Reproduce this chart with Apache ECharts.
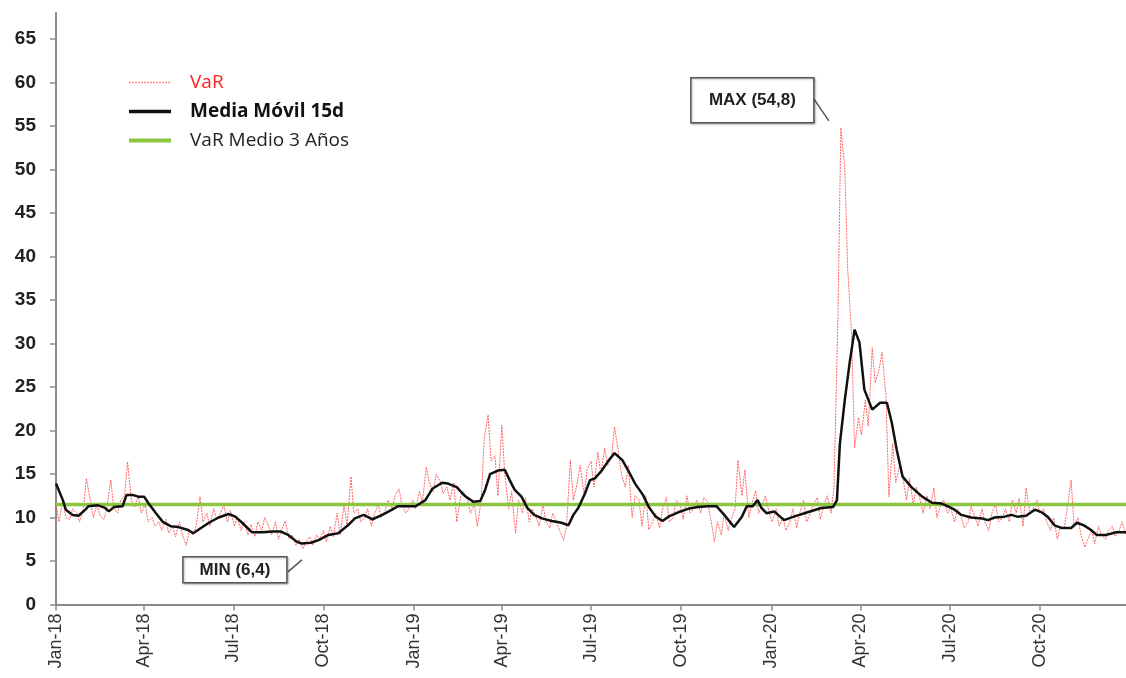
<!DOCTYPE html>
<html>
<head>
<meta charset="utf-8">
<script src="https://cdn.jsdelivr.net/npm/echarts@6/dist/echarts.min.js"></script>
<style>
html,body{margin:0;padding:0;background:#fff;}
#chart{width:1126px;height:678px;}
</style>
</head>
<body>
<div id="chart"></div>
<script>
// ---- Data ----
const seriesNames = ['VaR', 'Media Móvil 15d', 'VaR Medio 3 Años'];

// VaR: two readings per week (Monday, Thursday) starting 2018-01-01
const varStart = '2018-01-01';
const varValues = [
  // 2018
  11.5, 9.5, 12.0, 10.0, 9.8, 11.0, 10.5, 9.5, 11.0, 14.5,
  12.0, 10.0, 11.5, 10.2, 9.8, 11.2, 14.3, 11.0, 10.5, 12.0,
  12.5, 16.4, 12.0, 11.2, 12.5, 10.5, 11.5, 9.5, 10.0, 9.0,
  9.5, 8.5, 9.8, 8.2, 9.0, 7.8, 9.5, 8.0, 6.8, 8.5,
  8.0, 9.0, 12.4, 9.5, 10.5, 9.0, 11.0, 9.8, 10.5, 11.5,
  9.5, 10.8, 9.0, 10.0, 8.5, 9.5, 8.0, 9.2, 7.8, 9.5,
  8.5, 10.0, 9.0, 8.0, 9.5, 7.5, 8.8, 9.6, 7.5, 8.0,
  6.8, 7.5, 6.4, 7.2, 7.8, 6.8, 8.0, 7.5, 8.5, 7.2,
  9.0, 7.8, 10.5, 8.0, 11.5, 9.0, 14.7, 10.5, 11.0, 9.5,
  10.0, 11.0, 9.0, 10.5, 11.5, 10.0, 10.8, 12.0, 11.0, 12.5,
  13.3, 11.5, 10.5, 11.0, 12.0, 11.0,
  // 2019
  13.0, 11.8, 15.8, 14.0, 13.0, 15.0, 14.2, 12.8, 13.5, 12.0,
  14.0, 9.5, 12.5, 13.0, 12.0, 10.5, 11.5, 9.0, 12.0, 19.1,
  21.8, 16.5, 17.1, 12.5, 20.6, 15.0, 11.0, 13.0, 8.2, 12.0,
  10.5, 12.3, 9.5, 11.0, 10.0, 9.0, 11.5, 9.5, 8.8, 10.5,
  9.5, 8.5, 7.4, 9.0, 16.6, 12.0, 14.0, 16.0, 12.5, 15.5,
  16.5, 13.5, 17.5, 15.0, 18.0, 16.0, 17.0, 20.4, 17.5, 15.0,
  13.5, 16.0, 10.0, 12.5, 12.0, 9.0, 12.5, 8.6, 9.5, 10.5,
  8.8, 11.0, 12.3, 9.5, 10.0, 12.0, 11.5, 9.8, 12.5, 10.5,
  11.0, 12.0, 10.5, 12.3, 11.8, 10.0, 7.2, 9.5, 8.0, 10.5,
  8.5, 9.8, 11.0, 16.6, 12.5, 15.5, 10.0, 11.5, 13.1, 10.5,
  11.5, 12.5, 10.5, 9.5,
  // 2020
  11.0, 9.0, 10.0, 8.5, 9.5, 11.0, 8.8, 10.5, 12.0, 9.5,
  10.5, 11.5, 12.3, 9.8, 11.5, 12.5, 10.5, 13.5, 33.0, 54.8,
  50.2, 38.5, 31.0, 18.0, 21.5, 19.5, 23.5, 20.5, 29.5, 25.5,
  27.0, 29.0, 24.0, 12.4, 18.5, 14.0, 16.0, 14.8, 12.0, 14.5,
  11.5, 13.5, 12.0, 10.5, 12.5, 11.0, 13.4, 10.0, 11.5, 12.0,
  10.5, 11.2, 9.5, 11.0, 10.0, 8.8, 9.5, 11.3, 10.0, 9.0,
  11.0, 9.5, 8.5, 10.5, 11.5, 9.5, 10.0, 11.0, 9.5, 12.0,
  10.5, 12.2, 9.0, 13.4, 10.5, 11.0, 12.0, 10.5, 11.0, 9.5,
  8.5, 10.0, 7.5, 9.0, 8.8, 11.0, 14.3, 9.0, 10.0, 8.0,
  6.6, 7.5, 8.5, 7.0, 9.0, 8.0, 7.5, 8.5, 9.0, 7.8,
  8.5, 9.5, 8.0
];

// Media Móvil 15d
const maDates = [
  '2018-01-01','2018-01-08','2018-01-11','2018-01-18','2018-01-24','2018-01-31','2018-02-03','2018-02-13','2018-02-20','2018-02-24',
  '2018-03-01','2018-03-10','2018-03-14','2018-03-20','2018-03-26','2018-04-01','2018-04-05','2018-04-13','2018-04-20','2018-04-28',
  '2018-05-06','2018-05-15','2018-05-21','2018-05-29','2018-06-06','2018-06-16','2018-06-26','2018-07-03','2018-07-10','2018-07-20',
  '2018-07-31','2018-08-10','2018-08-18','2018-08-26','2018-09-04','2018-09-09','2018-09-18','2018-09-26','2018-10-06','2018-10-16',
  '2018-10-26','2018-11-02','2018-11-11','2018-11-20','2018-11-30','2018-12-10','2018-12-16','2018-12-27','2019-01-03','2019-01-13',
  '2019-01-20','2019-01-30','2019-02-05','2019-02-14','2019-02-22','2019-03-03','2019-03-10','2019-03-15','2019-03-20','2019-03-28',
  '2019-04-04','2019-04-09','2019-04-14','2019-04-21','2019-04-27','2019-05-04','2019-05-12','2019-05-22','2019-06-01','2019-06-08',
  '2019-06-13','2019-06-18','2019-06-25','2019-06-30','2019-07-05','2019-07-12','2019-07-18','2019-07-25','2019-08-02','2019-08-08',
  '2019-08-15','2019-08-23','2019-08-29','2019-09-05','2019-09-12','2019-09-18','2019-09-28','2019-10-08','2019-10-18','2019-10-28',
  '2019-11-06','2019-11-14','2019-11-24','2019-12-02','2019-12-07','2019-12-13','2019-12-18','2019-12-22','2019-12-27','2020-01-04',
  '2020-01-14','2020-01-24','2020-02-07','2020-02-21','2020-03-04','2020-03-08','2020-03-11','2020-03-16','2020-03-21','2020-03-26',
  '2020-03-31','2020-04-05','2020-04-13','2020-04-21','2020-04-28','2020-05-03','2020-05-08','2020-05-14','2020-05-23','2020-06-03',
  '2020-06-13','2020-06-23','2020-07-01','2020-07-06','2020-07-13','2020-07-23','2020-08-03','2020-08-09','2020-08-16','2020-08-26',
  '2020-09-02','2020-09-08','2020-09-17','2020-09-26','2020-10-03','2020-10-09','2020-10-16','2020-10-23','2020-11-02','2020-11-08',
  '2020-11-15','2020-11-22','2020-11-28','2020-12-08','2020-12-18','2020-12-28'
];
const maValues = [
  13.9, 12.0, 10.9, 10.3, 10.2, 10.9, 11.3, 11.4, 11.1, 10.7,
  11.2, 11.3, 12.6, 12.6, 12.4, 12.4, 11.7, 10.5, 9.5, 9.0,
  8.9, 8.6, 8.2, 8.8, 9.4, 10.0, 10.4, 10.1, 9.4, 8.3,
  8.3, 8.4, 8.4, 8.0, 7.2, 7.0, 7.1, 7.4, 8.0, 8.2,
  9.1, 9.9, 10.3, 9.8, 10.3, 10.9, 11.3, 11.3, 11.3, 12.0,
  13.3, 14.0, 13.9, 13.5, 12.5, 11.8, 11.9, 13.2, 15.0, 15.4,
  15.5, 14.3, 13.2, 12.4, 11.1, 10.3, 9.9, 9.6, 9.4, 9.1,
  10.3, 11.1, 12.8, 14.3, 14.5, 15.4, 16.4, 17.4, 16.6, 15.4,
  13.9, 12.6, 11.2, 10.1, 9.6, 10.1, 10.6, 11.0, 11.2, 11.3,
  11.3, 10.3, 8.9, 10.1, 11.3, 11.3, 12.0, 11.1, 10.5, 10.7,
  9.7, 10.1, 10.6, 11.1, 11.2, 12.0, 18.5, 23.5, 27.8, 31.6,
  30.1, 24.7, 22.4, 23.2, 23.2, 20.9, 17.8, 14.7, 13.5, 12.4,
  11.7, 11.6, 11.2, 10.9, 10.3, 10.0, 9.9, 9.7, 10.0, 10.1,
  10.3, 10.1, 10.2, 10.9, 10.6, 10.1, 9.1, 8.8, 8.8, 9.4,
  9.1, 8.6, 8.0, 8.0, 8.3, 8.3
];

// VaR Medio 3 Años (constant)
const avgValue = 11.5;
const periodStart = '2018-01-01';
const periodEnd = '2020-12-28';

// Annotations
const maxLabel = 'MAX (54,8)';
const minLabel = 'MIN (6,4)';

// Axis ticks
const yTicks = [0, 5, 10, 15, 20, 25, 30, 35, 40, 45, 50, 55, 60, 65];
const xTickDates = ['2018-01-01','2018-04-01','2018-07-01','2018-10-01','2019-01-01','2019-04-01','2019-07-01','2019-10-01','2020-01-01','2020-04-01','2020-07-01','2020-10-01'];
const xTickLabels = ['Jan-18','Apr-18','Jul-18','Oct-18','Jan-19','Apr-19','Jul-19','Oct-19','Jan-20','Apr-20','Jul-20','Oct-20'];

// ---- Build ----
function ts(s) { const p = s.split('-').map(Number); return Date.UTC(p[0], p[1] - 1, p[2]); }
const DAY = 86400000;
const startTs = ts(varStart);
const varData = varValues.map((v, i) => {
  const d = Math.floor(i / 2) * 7 + (i % 2 ? 3 : 0);
  return [startTs + d * DAY, v];
});
const maData = maDates.map((d, i) => [ts(d), maValues[i]]);
const avgData = [[ts(periodStart), avgValue], [ts(periodEnd), avgValue]];
const xTickTs = xTickDates.map(ts);
const labelMap = {};
xTickTs.forEach((t, i) => { labelMap[t] = xTickLabels[i]; });

const chart = echarts.init(document.getElementById('chart'), null, { renderer: 'canvas' });
const option = {
  animation: false,
  backgroundColor: '#ffffff',
  grid: { left: 56, right: 0, top: 13, bottom: 73.5, containLabel: false },
  legend: {
    orient: 'vertical',
    left: 122,
    top: 67,
    itemWidth: 42,
    itemHeight: 14,
    itemGap: 8,
    itemStyle: { color: 'transparent', borderWidth: 0, opacity: 0 },
    textStyle: { fontFamily: 'Open Sans', fontSize: 19, color: '#222', lineHeight: 21, padding: [0, 0, 0, 14] },
    data: [
      { name: seriesNames[0], textStyle: { color: '#ff2020' }, lineStyle: { width: 1.5, color: '#ff7a7a', type: [2, 1] } },
      { name: seriesNames[1], textStyle: { color: '#111', fontWeight: 'bold' }, lineStyle: { width: 3.5, color: '#111' } },
      { name: seriesNames[2], textStyle: { color: '#222' }, lineStyle: { width: 4, color: '#8cc63e' } }
    ]
  },
  xAxis: {
    type: 'value',
    min: ts(periodStart),
    max: ts(periodEnd),
    axisLine: { show: true, onZero: false, lineStyle: { color: '#8a8a8a', width: 2 } },
    axisTick: { show: true, length: 6, lineStyle: { color: '#8a8a8a', width: 1.5 }, customValues: xTickTs },
    axisLabel: {
      customValues: xTickTs,
      rotate: 90,
      margin: 9,
      fontFamily: 'Liberation Sans, Arial, sans-serif',
      fontSize: 18,
      color: '#333',
      formatter: function (v) { return labelMap[v] || ''; }
    },
    splitLine: { show: false }
  },
  yAxis: {
    type: 'value',
    min: 0,
    max: 68,
    axisLine: { show: true, lineStyle: { color: '#8a8a8a', width: 2 } },
    axisTick: { show: true, length: 6, lineStyle: { color: '#8a8a8a', width: 1.5 }, customValues: yTicks },
    axisLabel: {
      customValues: yTicks,
      margin: 20,
      fontFamily: 'Liberation Sans, Arial, sans-serif',
      fontSize: 19,
      fontWeight: 'bold',
      color: '#222'
    },
    splitLine: { show: false }
  },
  series: [
    {
      name: seriesNames[0],
      type: 'line',
      data: varData,
      symbol: 'none',
      showSymbol: false,
      lineStyle: { color: '#ff4a4a', width: 1, type: [2, 1], opacity: 0.85 },
      itemStyle: { color: '#ff4a4a' },
      z: 2
    },
    {
      name: seriesNames[2],
      type: 'line',
      data: avgData,
      symbol: 'none',
      showSymbol: false,
      lineStyle: { color: '#8cc63e', width: 3.5 },
      itemStyle: { color: '#8cc63e' },
      z: 3
    },
    {
      name: seriesNames[1],
      type: 'line',
      data: maData,
      symbol: 'none',
      showSymbol: false,
      lineStyle: { color: '#111', width: 2.5 },
      itemStyle: { color: '#111' },
      z: 4
    }
  ]
};
chart.setOption(option);

// Annotations tied to the extreme VaR values
let iMax = 0, iMin = 0;
varValues.forEach((v, i) => { if (v > varValues[iMax]) iMax = i; if (v < varValues[iMin]) iMin = i; });
const pMax = chart.convertToPixel({ gridIndex: 0 }, varData[iMax]);
const pMin = chart.convertToPixel({ gridIndex: 0 }, varData[iMin]);
const boxStyle = { fill: '#fff', stroke: '#555', lineWidth: 1.5, shadowBlur: 2, shadowColor: 'rgba(0,0,0,0.25)', shadowOffsetX: 1, shadowOffsetY: 1 };
const txtStyle = { fontFamily: 'Liberation Sans, Arial, sans-serif', fontSize: 17, fontWeight: 'bold', fill: '#222', align: 'center', verticalAlign: 'middle' };
chart.setOption({
  graphic: [
    { type: 'line', shape: { x1: pMax[0] - 27, y1: pMax[1] - 29, x2: pMax[0] - 12, y2: pMax[1] - 7 }, style: { stroke: '#555', lineWidth: 1.5 }, z: 10 },
    { type: 'rect', shape: { x: pMax[0] - 150, y: pMax[1] - 50, width: 123, height: 45 }, style: boxStyle, z: 10 },
    { type: 'text', x: pMax[0] - 88.5, y: pMax[1] - 27.5, style: Object.assign({ text: maxLabel }, txtStyle), z: 11 },
    { type: 'line', shape: { x1: pMin[0] - 15, y1: pMin[1] + 23, x2: pMin[0] - 1, y2: pMin[1] + 11 }, style: { stroke: '#555', lineWidth: 1.5 }, z: 10 },
    { type: 'rect', shape: { x: pMin[0] - 120, y: pMin[1] + 8, width: 104, height: 26 }, style: boxStyle, z: 10 },
    { type: 'text', x: pMin[0] - 68, y: pMin[1] + 21, style: Object.assign({ text: minLabel }, txtStyle), z: 11 }
  ]
});
</script>
</body>
</html>
